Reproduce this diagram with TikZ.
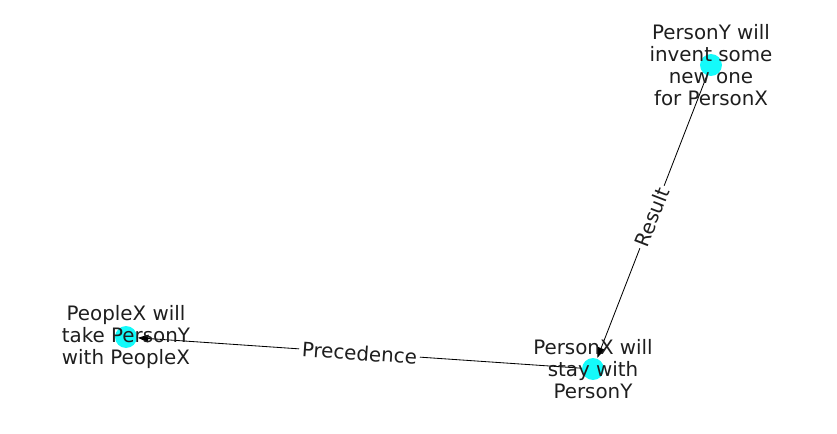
\documentclass[tikz,border=0pt]{standalone}
\usepackage{fontspec}
\setmainfont{DejaVu Sans}
\usetikzlibrary{arrows.meta}
\definecolor{nodecyan}{RGB}{20,250,250}
\definecolor{inkgray}{RGB}{30,30,30}
\begin{document}
\begin{tikzpicture}[x=0.72pt,y=-0.72pt,
    dot/.style={circle,fill=nodecyan,inner sep=0pt,minimum size=15.8pt},
    edge/.style={-{Triangle[length=7.5pt,width=5.5pt]},line width=0.6pt,shorten >=0.5pt},
    elabel/.style={fill=white,rounded corners=2pt,inner sep=2pt,text=inkgray,font=\fontsize{14.3}{15.8}\selectfont},
    nlabel/.style={align=center,text=inkgray,font=\fontsize{14.3}{15.8}\selectfont}]
  \useasboundingbox (0,0) rectangle (837,434);

  \node[dot] (invent) at (711,65) {};
  \node[dot] (stay) at (593,369) {};
  \node[dot] (take) at (126,337) {};

  \draw[edge] (invent) -- (stay);
  \draw[edge] (stay) -- (take);

  \node[elabel,rotate=68.8] (result) at (652,217) {Result};
  \node[elabel,rotate=-3.9] (prec) at (359.5,353) {Precedence};

  \node[nlabel] (inventtext) at (invent) {PersonY will\\invent some\\new one\\for PersonX};
  \node[nlabel] (staytext) at (stay) {PersonX will\\stay with\\PersonY};
  \node[nlabel] (taketext) at (take) {PeopleX will\\take PersonY\\with PeopleX};
\end{tikzpicture}
\end{document}
